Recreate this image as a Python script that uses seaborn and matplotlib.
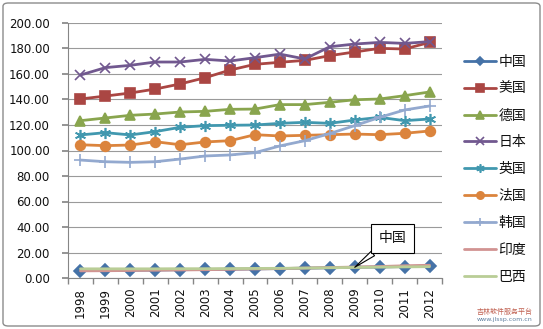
import matplotlib
matplotlib.use("Agg")
import matplotlib.pyplot as plt
import seaborn as sns
import pandas as pd
from matplotlib.patches import FancyBboxPatch

years = list(range(1998, 2013))
china   = [5.8, 5.9, 6.1, 6.2, 6.5, 6.7, 6.9, 7.1, 7.4, 7.7, 8.0, 8.4, 8.6, 9.0, 9.4]
usa     = [140.4, 142.7, 145.1, 148.2, 152.2, 157.1, 163.1, 167.6, 169.2, 170.7, 174.4, 177.3, 180.1, 179.6, 184.8]
germany = [123.4, 125.5, 127.6, 128.6, 130.2, 130.7, 132.3, 132.5, 136.0, 136.0, 137.8, 139.8, 140.4, 143.0, 145.9]
japan   = [159.2, 165.0, 166.8, 169.4, 169.4, 171.5, 170.2, 172.8, 175.6, 171.8, 181.4, 183.5, 184.8, 184.0, 185.4]
uk      = [112.2, 114.0, 112.2, 114.8, 118.2, 119.5, 119.8, 120.0, 121.3, 122.1, 121.3, 123.9, 126.0, 123.4, 124.7]
france  = [104.5, 103.8, 104.3, 106.9, 104.5, 106.7, 107.7, 112.4, 111.4, 111.9, 112.4, 112.9, 112.4, 113.5, 115.3]
korea   = [92.5, 91.2, 90.7, 91.2, 93.3, 95.7, 96.5, 98.3, 103.6, 107.7, 113.3, 119.5, 126.0, 131.8, 134.9]
india   = [5.6, 5.7, 5.9, 6.1, 6.3, 6.5, 6.8, 7.1, 7.4, 7.8, 8.2, 8.6, 9.0, 9.6, 10.0]
brazil  = [7.2, 7.2, 7.2, 7.2, 7.3, 7.3, 7.4, 7.5, 7.6, 7.8, 8.0, 8.3, 8.5, 8.7, 8.9]

names = ["中国", "美国", "德国", "日本", "英国", "法国", "韩国", "印度", "巴西"]
series = [china, usa, germany, japan, uk, france, korea, india, brazil]
colors = ["#4572A7", "#AA4643", "#89A54E", "#71588F", "#4198AF",
          "#DB843D", "#93A9CF", "#D19392", "#B9CD96"]
markers = ["D", "s", "^", "x", (6, 2, 0), "o", "+", None, None]
msizes = [6, 7, 7, 7, 8, 7, 8, 0, 0]
yticks = [0, 20, 40, 60, 80, 100, 120, 140, 160, 180, 200]

sns.set_theme(style="white")
plt.rcParams['font.family'] = ['DejaVu Sans', 'Noto Sans CJK SC']
plt.rcParams['text.color'] = '#111111'

fig = plt.figure(figsize=(5.43, 3.29), dpi=100)
ax = fig.add_axes([68/543, 1 - 278/329, (442 - 68)/543, (278 - 23)/329])

for name, vals, c, m, ms in zip(names, series, colors, markers, msizes):
    df = pd.DataFrame({"year": years, "value": vals})
    kw = dict(color=c, linewidth=2.0, label=name)
    if m is not None:
        kw.update(marker=m, markersize=ms, markerfacecolor=c, markeredgecolor=c,
                  markeredgewidth=1.2)
    sns.lineplot(data=df, x="year", y="value", ax=ax, **kw)

ax.set_xlim(1997.5, 2012.5)
ax.set_ylim(0, 200)
ax.set_yticks(yticks)
ax.set_yticklabels([f"{v:.2f}" for v in yticks], fontsize=8.5, color="#111111")
ax.set_xticks(years)
ax.set_xticklabels([str(y) for y in years], rotation=90, fontsize=8.5, color="#111111")
ax.set_xticks([y - 0.5 for y in years] + [2012.5], minor=True)
ax.tick_params(axis="x", which="major", length=0, pad=7)
ax.tick_params(axis="x", which="minor", length=4, color="#868686", direction="out", bottom=True)
ax.tick_params(axis="y", length=4, color="#868686", direction="out", left=True, pad=9)
ax.set_xlabel("")
ax.set_ylabel("")
ax.yaxis.grid(True, color="#9a9a9a", linewidth=0.8)
ax.set_axisbelow(True)
for s in ["top", "right"]:
    ax.spines[s].set_visible(False)
for s in ["left", "bottom"]:
    ax.spines[s].set_color("#868686")
    ax.spines[s].set_linewidth(0.8)

handles, labels = ax.get_legend_handles_labels()
leg = fig.legend(handles, labels, loc="upper left", bbox_to_anchor=(458/543, 1 - 49/329),
                 frameon=False, prop={"family": ["Noto Sans CJK SC"], "size": 10},
                 handlelength=2.3, handletextpad=0.2, labelspacing=0.93, borderaxespad=0,
                 markerscale=0.75)
for t in leg.get_texts():
    t.set_color("#111111")
if ax.get_legend() is not None:
    ax.get_legend().remove()

ax.annotate("中国", xy=(2009, china[11]), xytext=(2010.52, 31),
            ha="center", va="center", fontsize=10, family=["Noto Sans CJK SC"],
            bbox=dict(boxstyle="square,pad=0.55", fc="white", ec="black", lw=0.8),
            arrowprops=dict(arrowstyle="wedge,tail_width=0.4", fc="white", ec="black",
                            lw=0.8, shrinkA=0, shrinkB=0))

border = FancyBboxPatch((3/543, 3/329), 537/543, 323/329, transform=fig.transFigure,
                        boxstyle="round,pad=0,rounding_size=0.01", fc="none",
                        ec="#8c8c8c", lw=1.0)
fig.patches.append(border)

fig.text(505/543, 1 - 312/329, "吉林软件服务平台", fontsize=5, color="#c06050",
         family=["Noto Sans CJK SC"], ha="center", va="center")
fig.text(505/543, 1 - 320/329, "www.jlssp.com.cn", fontsize=4.5, color="#6080a0",
         ha="center", va="center")

fig.savefig("out.png", dpi=100)
